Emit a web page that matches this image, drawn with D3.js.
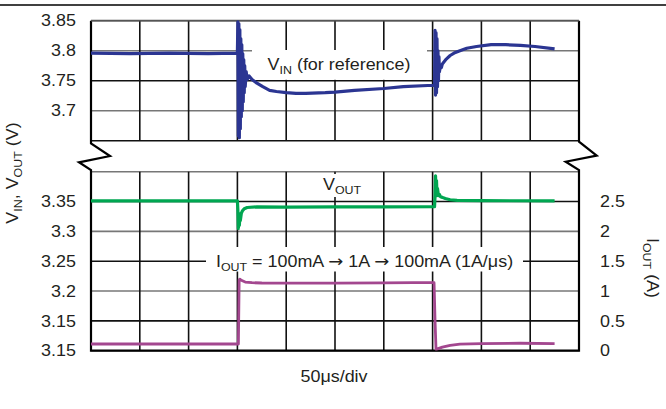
<!DOCTYPE html>
<html>
<head>
<meta charset="utf-8">
<script src="https://cdn.jsdelivr.net/npm/d3@7"></script>
<style>
  html, body { margin: 0; padding: 0; background: #fff; }
  svg { display: block; font-family: "Liberation Sans", Arial, Helvetica, sans-serif; }
</style>
</head>
<body>
<svg id="chart" width="666" height="409"></svg>
<script>
// Time base: 10 divisions of 50 µs
const timeTicks = [0, 50, 100, 150, 200, 250, 300, 350, 400, 450, 500];

// Upper panel (V_IN) grid and labels
const vinGrid = [3.85, 3.8, 3.75, 3.7, 3.65];
const vinTickValues = [3.85, 3.8, 3.75, 3.7];
const vinTickLabels = ["3.85", "3.8", "3.75", "3.7"];

// Lower panel (V_OUT / I_OUT) grid and labels
const voutGrid = [3.4, 3.35, 3.3, 3.25, 3.2, 3.15, 3.1];
const voutTickValues = [3.35, 3.3, 3.25, 3.2, 3.15, 3.1];
const voutTickLabels = ["3.35", "3.3", "3.25", "3.2", "3.15", "3.15"];
const ioutTickValues = [2.5, 2, 1.5, 1, 0.5, 0];
const ioutTickLabels = ["2.5", "2", "1.5", "1", "0.5", "0"];

// V_IN trace: time (µs) and volts
const vinTime = [0, 40, 80, 120, 150, 150.5, 151, 151.5, 152, 152.5, 153, 153.5, 154, 154.5, 155, 155.5, 156, 156.5, 157, 157.5, 158, 159, 160, 162, 165, 170, 176, 183, 190, 200, 210, 220, 240, 250, 270, 300, 320, 345, 352,
  352.5, 353, 353.5, 354, 354.5, 355, 355.5, 356, 356.5, 357, 358, 359, 360, 362, 364, 368, 372, 378, 385, 395, 410, 425, 440, 455, 475];
const vinVolts = [3.796, 3.795, 3.796, 3.795, 3.796, 3.848, 3.658, 3.845, 3.655, 3.835, 3.67, 3.82, 3.69, 3.81, 3.70, 3.795, 3.715, 3.785, 3.73, 3.775, 3.74, 3.765, 3.752, 3.758, 3.752, 3.746, 3.740, 3.734, 3.732, 3.730, 3.729, 3.729, 3.730, 3.731, 3.734, 3.737, 3.740, 3.742, 3.742,
  3.834, 3.726, 3.83, 3.73, 3.82, 3.74, 3.80, 3.75, 3.79, 3.765, 3.775, 3.772, 3.778, 3.782, 3.786, 3.792, 3.796, 3.800, 3.804, 3.807, 3.810, 3.810, 3.809, 3.807, 3.803];

// V_OUT trace: time (µs) and volts
const voutTime = [0, 150, 150.5, 151, 151.5, 152, 152.5, 153, 154, 155, 157, 160, 170, 200, 250, 300, 352, 352.5, 353, 353.5, 354, 354.5, 355, 356, 357, 358, 360, 363, 368, 375, 400, 475];
const voutVolts = [3.351, 3.351, 3.335, 3.305, 3.33, 3.31, 3.325, 3.318, 3.33, 3.334, 3.338, 3.340, 3.341, 3.3405, 3.341, 3.341, 3.3415, 3.36, 3.393, 3.365, 3.385, 3.36, 3.372, 3.36, 3.362, 3.358, 3.357, 3.355, 3.353, 3.352, 3.3515, 3.351];

// I_OUT trace: time (µs) and amps
const ioutTime = [0, 151, 151.8, 152.5, 154, 158, 165, 175, 200, 250, 300, 330, 351.5, 352.5, 353.5, 355, 360, 368, 378, 400, 440, 475];
const ioutAmps = [0.112, 0.112, 1.19, 1.2, 1.18, 1.15, 1.14, 1.135, 1.132, 1.133, 1.137, 1.14, 1.14, 0.5, 0.025, 0.03, 0.06, 0.09, 0.11, 0.12, 0.125, 0.12];

const svg = d3.select("#chart");

const x = d3.scaleLinear().domain([0, 500]).range([91, 579]);
const yTop = d3.scaleLinear().domain([3.65, 3.85]).range([140.7, 20.7]);
const yBot = d3.scaleLinear().domain([3.1, 3.4]).range([350.7, 171.7]);
const yAmp = d3.scaleLinear().domain([0, 3]).range([350.7, 171.7]);

const gridBlack = "#111";
const gridGray = "#777";
const ink = "#231f20";
const fs = 16.3;        // type size
const stretch = 1.1;    // horizontal stretch of the lettering

// rule across the top of the figure
svg.append("line").attr("x1", 0).attr("x2", 666).attr("y1", 5).attr("y2", 5)
  .attr("stroke", "#000").attr("stroke-width", 1.5);

// horizontal grid
const grid = svg.append("g");
grid.selectAll("line.ht").data(vinGrid).join("line")
  .attr("x1", x(0)).attr("x2", x(500))
  .attr("y1", d => yTop(d)).attr("y2", d => yTop(d))
  .attr("stroke", (d, i) => (i === 2 || i === 4) ? gridBlack : gridGray)
  .attr("stroke-width", 1.6);
grid.selectAll("line.hb").data(voutGrid).join("line")
  .attr("x1", x(0)).attr("x2", x(500))
  .attr("y1", d => yBot(d)).attr("y2", d => yBot(d))
  .attr("stroke", (d, i) => i % 2 === 1 ? gridBlack : gridGray)
  .attr("stroke-width", 1.6);

// vertical grid, both panels
timeTicks.slice(1, -1).forEach(t => {
  grid.append("line").attr("x1", x(t)).attr("x2", x(t))
    .attr("y1", yTop(3.85)).attr("y2", yTop(3.65))
    .attr("stroke", gridBlack).attr("stroke-width", 1.6);
  grid.append("line").attr("x1", x(t)).attr("x2", x(t))
    .attr("y1", yBot(3.4)).attr("y2", yBot(3.1))
    .attr("stroke", gridBlack).attr("stroke-width", 1.6);
});

// frame with axis-break zigzags
const frame = svg.append("g").attr("fill", "none").attr("stroke", "#000").attr("stroke-width", 2.2).attr("stroke-linejoin", "miter");
const L = x(0), R = x(500);
frame.append("path").attr("d", d3.line()([
  [L, yTop(3.85)], [L, 143.3], [L + 19, 156], [L - 12, 162.3], [L, 170], [L, yBot(3.1)], [R, yBot(3.1)],
  [R, 170], [R - 13.3, 161.7], [R + 17.7, 155.7], [R, 141.7], [R, yTop(3.85)]
]));
svg.append("line").attr("x1", L).attr("x2", R).attr("y1", yTop(3.85)).attr("y2", yTop(3.85))
  .attr("stroke", "#555").attr("stroke-width", 1.8);

// label backgrounds
svg.append("rect").attr("x", 252).attr("y", 50).attr("width", 175).attr("height", 29.8).attr("fill", "#fff");
svg.append("rect").attr("x", 300).attr("y", 174).attr("width", 78).attr("height", 23).attr("fill", "#fff");
svg.append("rect").attr("x", 206).attr("y", 247).attr("width", 317).attr("height", 24.5).attr("fill", "#fff");

// traces
const lineTop = d3.line().x(d => x(d[0])).y(d => yTop(d[1]));
const lineBot = d3.line().x(d => x(d[0])).y(d => yBot(d[1]));
const lineAmp = d3.line().x(d => x(d[0])).y(d => yAmp(d[1]));

svg.append("path").datum(d3.zip(vinTime, vinVolts)).attr("d", lineTop)
  .attr("fill", "none").attr("stroke", "#2b3592").attr("stroke-width", 3.2).attr("stroke-linejoin", "round");
svg.append("path").datum(d3.zip(voutTime, voutVolts)).attr("d", lineBot)
  .attr("fill", "none").attr("stroke", "#00a651").attr("stroke-width", 3.2).attr("stroke-linejoin", "round");
svg.append("path").datum(d3.zip(ioutTime, ioutAmps)).attr("d", lineAmp)
  .attr("fill", "none").attr("stroke", "#a3478f").attr("stroke-width", 2.8).attr("stroke-linejoin", "round");

// axes (labels only, stretched horizontally)
function styleAxis(g) {
  g.select(".domain").remove();
  g.selectAll(".tick line").remove();
  g.selectAll(".tick text").attr("font-size", fs).attr("fill", ink)
    .attr("font-family", "'Liberation Sans', Arial, sans-serif")
    .attr("transform", `scale(${stretch},1)`);
}
svg.append("g").attr("transform", `translate(${L},0)`)
  .call(d3.axisLeft(yTop).tickValues(vinTickValues).tickFormat((d, i) => vinTickLabels[i]).tickSize(0).tickPadding(15 / stretch))
  .call(styleAxis);
svg.append("g").attr("transform", `translate(${L},0)`)
  .call(d3.axisLeft(yBot).tickValues(voutTickValues).tickFormat((d, i) => voutTickLabels[i]).tickSize(0).tickPadding(15 / stretch))
  .call(styleAxis);
svg.append("g").attr("transform", `translate(${R},0)`)
  .call(d3.axisRight(yAmp).tickValues(ioutTickValues).tickFormat((d, i) => ioutTickLabels[i]).tickSize(0).tickPadding(21 / stretch))
  .call(styleAxis);

// text with subscripts; arrows set in DejaVu Sans for a full-width glyph
function richText(parent, parts, px, py, rotate) {
  const g = parent.append("g")
    .attr("transform", `translate(${px},${py})` + (rotate ? ` rotate(${rotate})` : "") + ` scale(${stretch},1)`);
  const t = g.append("text").attr("font-size", fs).attr("fill", ink).attr("text-anchor", "middle");
  let shifted = false;
  parts.forEach(p => {
    const ts = t.append("tspan").text(p.text);
    if (p.sub) {
      ts.attr("font-size", 11.3);
      if (!shifted) { ts.attr("dy", 4); shifted = true; }
    } else if (shifted) { ts.attr("dy", -4); shifted = false; }
    if (p.font) ts.attr("font-family", p.font);
  });
  return t;
}

const arrowFont = "'DejaVu Sans', sans-serif";
richText(svg, [{text: "V"}, {text: "IN", sub: true}, {text: " (for reference)"}], 339, 70);
richText(svg, [{text: "V"}, {text: "OUT", sub: true}], 342, 190);
richText(svg, [{text: "I"}, {text: "OUT", sub: true}, {text: " = 100mA "}, {text: "\u2192", font: arrowFont},
  {text: " 1A "}, {text: "\u2192", font: arrowFont}, {text: " 100mA (1A/\u03bcs)"}], 364.5, 267);

richText(svg, [{text: "50\u03bcs/div"}], 334, 381.7);

richText(svg, [{text: "V"}, {text: "IN", sub: true}, {text: ", V"}, {text: "OUT", sub: true}, {text: " (V)"}], 18, 173, -90);
richText(svg, [{text: "I"}, {text: "OUT", sub: true}, {text: " (A)"}], 647, 268, 90);
</script>
</body>
</html>
